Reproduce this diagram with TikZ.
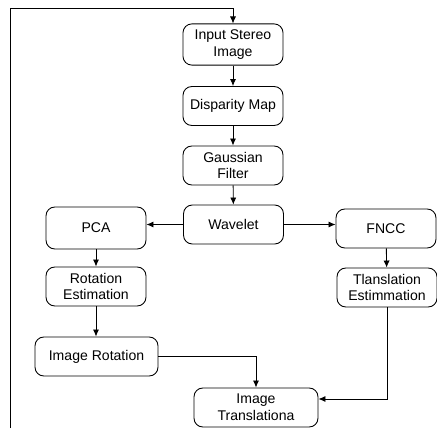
\documentclass[tikz,border=0pt]{standalone}
\usepackage{fontspec}
\setsansfont{Liberation Sans}
\usetikzlibrary{arrows.meta,positioning}

\begin{document}
\begin{tikzpicture}[
  stage/.style={draw,rounded corners=5pt,minimum width=2cm,minimum height=0.78cm,align=center,font=\sffamily\fontsize{8}{9.5}\selectfont,line width=0.5pt},
  flow/.style={-{Latex[length=4pt,width=3.5pt]},line width=0.5pt}]
  \useasboundingbox (0,0) rectangle (8.74,8.56);
  % Main chain
  \node[stage] (input) at (4.66,7.67) {Input Stereo\\Image};
  \node[stage] (disp) at (4.66,6.44) {Disparity Map};
  \node[stage] (gauss) at (4.66,5.25) {Gaussian\\Filter};
  \node[stage] (wavelet) at (4.67,4.07) {Wavelet};
  % Rotation branch
  \node[stage,minimum height=0.84cm] (pca) at (1.92,4.0) {PCA};
  \node[stage] (rotest) at (1.92,2.83) {Rotation\\Estimation};
  \node[stage,minimum width=2.46cm] (imrot) at (1.93,1.43) {Image Rotation};
  % Translation branch
  \node[stage] (fncc) at (7.72,3.99) {FNCC};
  \node[stage] (transest) at (7.74,2.81) {Tlanslation\\Estimmation};
  \node[stage,minimum width=2.48cm] (imtrans) at (5.12,0.41) {Image\\Translationa};
  % Loop back
  \coordinate (loopstart) at (0.2,0);
  \coordinate (loopcorner) at (0.2,8.4);
  \draw[flow] (loopstart) -- (loopcorner) -| (input.north);
  % Arrows
  \draw[flow] (input) -- (disp);
  \draw[flow] (disp) -- (gauss);
  \draw[flow] (gauss) -- (wavelet);
  \draw[flow] (wavelet.west) -- (wavelet.west -| pca.east);
  \draw[flow] (wavelet.east) -- (wavelet.east -| fncc.west);
  \draw[flow] (pca) -- (rotest);
  \draw[flow] (rotest) -- (rotest |- imrot.north);
  \draw[flow] (fncc) -- (transest);
  \draw[flow] (imrot.east) -| (imtrans.north);
  \draw[flow] (transest.south) |- ([yshift=0.17cm]imtrans.east);
\end{tikzpicture}
\end{document}
